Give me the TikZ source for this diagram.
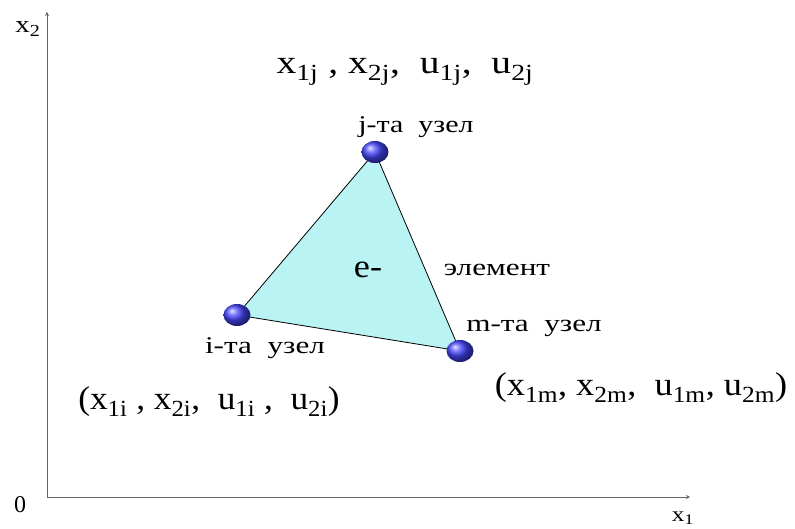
\documentclass[tikz,border=0pt]{standalone}
\usepackage{fontspec}
\setmainfont{Liberation Serif}
\usepackage{xcolor}
\usetikzlibrary{calc, shapes.geometric, positioning, backgrounds}

\definecolor{elemfill}{RGB}{185,243,243}
\definecolor{axisgray}{RGB}{100,100,100}
\definecolor{uzelblue}{RGB}{70,70,255}
\newcommand{\ind}[1]{\textsubscript{#1}}
\newcommand{\wide}[2][1.25]{\scalebox{#1}[1]{#2}}

\begin{document}
\begin{tikzpicture}[>=stealth, x=1pt, y=1pt,
    uzel/.style={ellipse, minimum width=27pt, minimum height=22pt, inner sep=0pt, ball color=uzelblue},
    bigtxt/.style={font=\fontsize{33}{36}\selectfont},
    midtxt/.style={font=\fontsize{24}{27}\selectfont},
    axtxt/.style={font=\fontsize{24}{27}\selectfont}]
            \useasboundingbox (0,0) rectangle (795,529);

            % oslar
            \coordinate (O) at (47,32);
            \coordinate (x1end) at (690,32);
            \coordinate (x2end) at (47,517);
            \draw[axisgray, thick, ->] (O) -- (x1end);
            \draw[axisgray, thick, ->] (O) -- (x2end);
            \node[axtxt, font=\fontsize{21}{24}\selectfont] (x1) at (683,11) {\wide[1.2]{x\ind{1}}};
            \node[axtxt] (x2) at (28,500) {\wide[1.2]{x\ind{2}}};
            \node[axtxt] (zero) at (20,24) {0};

            % tugunlar
            \node[uzel] (j) at (375,377) {};
            \node[uzel] (i) at (237,214) {};
            \node[uzel] (m) at (460,178) {};

            \begin{pgfonlayer}{background}
                \filldraw[fill=elemfill, draw=black, thick] (i.center) -- (j.center) -- (m.center) -- cycle;
            \end{pgfonlayer}

            \node[midtxt] (jlbl) at (416,402) {\wide[1.25]{j-та\ \ узел}};
            \node[midtxt] (ilbl) at (265,181) {\wide[1.3]{i-та\ \ узел}};
            \node[midtxt] (mlbl) at (534,201) {\wide[1.3]{m-та\ \ узел}};
            \node[font=\fontsize{33}{36}\selectfont] (e) at (368,259) {\wide[1.1]{e-}};
            \node[midtxt] (elem) at (497,259) {\wide[1.3]{элемент}};

            \node[bigtxt] (jco) at (405,457) {\wide[1.2]{x\ind{1j} , x\ind{2j},\ \ u\ind{1j},\ \ u\ind{2j}}};
            \node[bigtxt] (ico) at (209,127) {\wide[1.07]{(x\ind{1i} , x\ind{2i},\ \ u\ind{1i} ,\ \ u\ind{2i})}};
            \node[bigtxt] (mco) at (641,141) {\wide[1.1]{(x\ind{1m}, x\ind{2m},\ \ u\ind{1m}, u\ind{2m})}};
        \end{tikzpicture}
\end{document}
